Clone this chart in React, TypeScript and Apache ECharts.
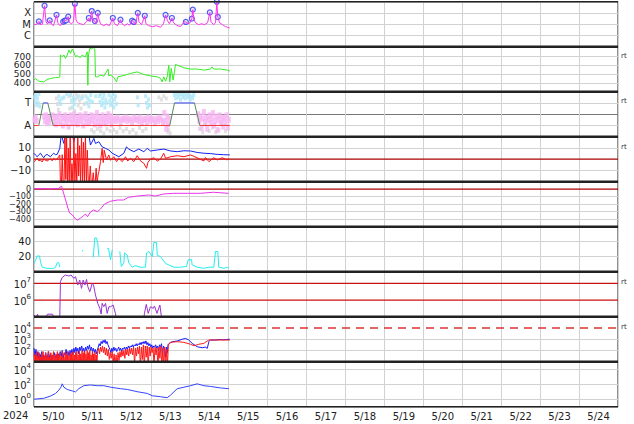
import React, { useEffect, useRef } from 'react';
import * as echarts from 'echarts';

// x values are hours since 5/10 00:00
const DAY_LABELS = ['5/10', '5/11', '5/12', '5/13', '5/14', '5/15', '5/16', '5/17', '5/18', '5/19', '5/20', '5/21', '5/22', '5/23', '5/24'];
const YEAR_LABEL = '2024';
const RT_LABEL = 'rt';
const FLARE_CLASS: Record<number, string> = { 1: 'C', 2: 'M', 3: 'X' };
const PLASMA_LABEL: Record<number, string> = { 0: 'A', 2: 'T' };
const ELECTRON_LEVELS = [6, 7];
const PROTON_LEVEL = [4];

// Panel 1: X-ray flare class (log level, C=1, M=2, X=3)
const xrayFlux: (number | null)[][] = [
  [0, 2.0], [1.5, 1.96], [3.0, 2.25], [4.0, 1.96], [5.2, 2.0], [6.5, 3.64], [7.4, 2.22], [8.3, 2.0], [9.7, 2.34], [10.8, 2.0],
  [12.0, 1.87], [13.9, 2.82], [14.8, 2.05], [16.3, 1.87], [18.0, 2.22], [19.0, 2.31], [19.9, 2.34], [21.1, 2.67], [21.9, 2.13], [23.1, 2.04],
  [24.4, 2.22], [25.2, 3.82], [25.9, 2.4], [26.8, 2.13], [28.7, 2.04], [30.5, 1.96], [32.4, 2.22], [33.8, 2.55], [34.5, 2.22], [35.6, 3.17],
  [36.4, 2.31], [37.5, 2.28], [38.2, 2.04], [39.3, 3.0], [40.1, 2.4], [41.0, 2.04], [42.8, 1.87], [44.7, 2.0], [46.5, 1.87], [48.6, 2.55],
  [49.6, 2.04], [51.5, 1.87], [53.3, 2.4], [54.3, 2.04], [55.8, 1.87], [57.6, 2.04], [58.9, 1.91], [60.5, 2.31], [61.5, 2.2], [62.6, 1.96],
  [64.0, 3.0], [64.7, 2.22], [66.3, 1.96], [68.3, 2.75], [69.0, 2.04], [70.6, 1.87], [73.1, 1.78], [75.5, 1.87], [78.0, 1.73], [79.8, 2.04],
  [81.1, 2.82], [82.3, 2.31], [83.5, 2.04], [85.0, 2.55], [86.0, 2.13], [87.9, 1.91], [90.3, 1.78], [92.5, 2.2], [93.6, 2.2], [94.6, 2.04],
  [96.2, 2.13], [97.3, 2.49], [97.9, 3.29], [98.6, 2.4], [99.6, 2.13], [101.4, 1.96], [103.3, 2.04], [105.1, 1.96], [107.0, 2.13], [108.4, 3.04],
  [109.1, 2.22], [110.7, 1.96], [111.9, 2.13], [112.7, 4.0], [113.3, 2.64], [114.4, 2.13], [116.2, 1.96], [118.1, 1.78], [119.3, 1.73], [120.7, 1.66],
];
const xrayFlares: number[][] = [
  [3.0, 2.25], [6.5, 3.64], [9.7, 2.34], [13.9, 2.82], [18.0, 2.22], [19.0, 2.31], [19.9, 2.34], [21.1, 2.67], [25.2, 3.82], [33.8, 2.55],
  [35.6, 3.17], [37.5, 2.28], [39.3, 3.0], [48.6, 2.55], [53.3, 2.4], [60.5, 2.31], [61.5, 2.2], [64.0, 3.0], [68.3, 2.75], [81.1, 2.82],
  [85.0, 2.55], [93.6, 2.2], [97.3, 2.49], [97.9, 3.29], [108.4, 3.04], [112.7, 4.0], [113.3, 2.64],
];

// Panel 2: solar wind speed (km/s)
const windSpeed: number[][] = [
  [0, 432], [0.9, 451], [3.0, 420], [6.0, 412], [8.1, 440], [10.2, 451], [13.3, 463], [15.3, 463], [15.9, 470], [16.3, 720],
  [17.4, 700], [18.4, 720], [19.4, 682], [20.5, 720], [21.5, 777], [22.5, 739], [23.6, 789], [24.5, 757], [25.6, 700], [26.6, 712],
  [27.6, 700], [28.6, 690], [29.7, 720], [30.7, 705], [31.7, 700], [32.8, 757], [33.2, 374], [33.6, 720], [34.4, 797], [35.5, 790],
  [36.5, 804], [37.5, 789], [37.9, 470], [39.0, 470], [41.0, 489], [43.0, 478], [45.7, 559], [46.1, 481], [47.2, 489], [49.2, 463],
  [50.9, 412], [51.7, 470], [54.4, 481], [57.0, 495], [59.5, 509], [63.6, 527], [67.7, 497], [71.8, 481], [76.0, 470], [78.0, 451],
  [79.0, 412], [80.0, 470], [81.1, 420], [82.1, 470], [83.1, 604], [83.7, 412], [84.6, 567], [85.8, 432], [87.2, 612], [88.3, 604],
  [92.4, 573], [96.5, 559], [100.6, 559], [104.7, 547], [108.8, 559], [109.9, 585], [110.7, 559], [115.0, 559], [119.1, 547], [120.7, 536],
];

// Panel 3: plasma state (A=0, T=2)
const stateLow: (number | null)[][] = [[0, 0], [3.0, 0], [3.0, null], [11.8, 0], [83.7, 0], [83.7, null], [102.2, 0], [120.7, 0]];
const stateRamp: (number | null)[][] = [[3.0, 0], [5.7, 2], [5.7, null], [8.5, 2], [11.8, 0], [11.8, null], [83.7, 0], [86.6, 2], [86.6, null], [98.9, 2], [102.2, 0]];
const stateHigh: (number | null)[][] = [[5.7, 2], [8.5, 2], [8.5, null], [86.6, 2], [98.9, 2]];
const plasmaCyan: number[][] = [
  [0.3, 2.5], [0.8, 2.1], [1.2, 2.7], [1.6, 1.8], [2.1, 2.4], [2.6, 2.0], [3.0, 2.8], [3.5, 1.7],
  [15.2, 2.6], [15.8, 2.2], [16.5, 1.9], [17.2, 2.4], [18.5, 2.5], [20.2, 2.8],
  [22.6, 2.7], [23.1, 2.2], [23.6, 1.6], [24.2, 2.5], [24.8, 1.9], [25.4, 2.3], [27.8, 2.6], [29.5, 2.4],
  [32.0, 2.6], [32.6, 2.0], [33.2, 2.4], [33.8, 1.7], [34.4, 2.2], [35.0, 2.7], [36.0, 2.1], [38.0, 2.6],
  [40.2, 2.6], [40.7, 2.1], [41.2, 2.8], [41.7, 1.8], [42.2, 2.4], [42.7, 2.0], [43.2, 2.7], [43.7, 1.6], [44.2, 2.3], [44.7, 2.0],
  [46.2, 2.7], [46.7, 2.2], [47.2, 1.8], [47.7, 2.5], [48.2, 2.0], [48.7, 2.8], [49.2, 1.6], [49.7, 2.3], [50.2, 2.6], [50.7, 1.9],
  [63.8, 2.5], [64.2, 1.8], [68.8, 2.6], [69.4, 2.0], [70.0, 1.6], [70.6, 2.3], [71.2, 1.8],
  [86.5, 2.7], [87.3, 2.4], [88.0, 2.8], [88.8, 2.5], [89.5, 2.7], [90.3, 2.3], [91.0, 2.8], [91.8, 2.5], [92.5, 2.7], [93.3, 2.4],
  [94.0, 2.8], [94.8, 2.5], [95.5, 2.7], [96.3, 2.3], [97.0, 2.6], [97.8, 2.4], [98.5, 2.7],
];
const plasmaPink: number[][] = [
  [0.3, 0.5], [1.0, 0.7], [1.7, 0.4], [6.2, 0.8], [6.8, 0.4], [7.4, 0.9], [8.0, 0.2], [8.6, 0.7], [9.2, 0.3], [9.8, 0.6],
  [11.5, 0.9], [12.2, 0.3], [12.9, 0.7], [13.6, 0.1], [14.3, 0.8], [15.0, 0.4], [15.7, 1.0], [16.4, 0.2], [17.1, 0.7], [17.8, 0.0],
  [18.5, 0.6], [19.2, 0.9], [19.9, 0.3], [20.6, 0.7], [21.3, -0.1], [22.0, 0.5], [22.7, 0.9], [23.4, 0.2], [24.1, 0.6], [24.8, 1.0],
  [25.5, 0.3], [26.2, 0.7], [26.9, 0.1], [27.6, 0.5], [28.3, 0.9], [29.0, 0.4], [29.7, 0.8], [30.4, 0.0], [31.1, 0.6], [31.8, 1.0],
  [32.5, 0.3], [33.2, 0.7], [33.9, 0.2], [34.6, 0.5], [35.3, 0.9], [36.0, 0.4], [36.7, 0.8], [37.4, 0.1], [38.1, 0.6], [38.8, 1.1],
  [39.5, 0.3], [40.2, 0.7], [40.9, 0.0], [41.6, 0.5], [42.3, 0.9], [43.0, 0.3], [43.7, 0.7], [44.4, 0.2], [45.1, 0.6], [45.8, 1.0],
  [46.5, 0.4], [47.2, 0.8], [47.9, 0.1], [48.6, 0.5], [49.5, 0.6], [50.5, 0.4], [51.5, 0.7], [52.5, 0.5], [53.5, 0.3], [54.5, 0.6],
  [55.5, 0.5], [56.5, 0.7], [57.5, 0.4], [58.5, 0.6], [59.5, 0.5], [60.5, 0.3], [61.5, 0.7], [62.5, 0.5], [63.5, 0.6], [64.5, 0.4],
  [65.5, 0.7], [66.5, 0.2], [67.5, 0.5], [68.5, 0.6], [69.5, 0.3], [70.5, 0.7], [71.5, 0.4], [72.5, 0.6], [73.5, 0.5], [74.5, 0.2],
  [75.5, 0.6], [76.5, 0.4], [77.5, 0.7], [78.5, 0.5], [79.5, 0.3], [80.3, 1.1], [80.9, 0.4], [81.5, -0.3], [82.1, 0.8], [82.7, 0.1],
  [83.3, 0.6], [101.2, 1.0], [101.9, 0.4], [102.6, 0.8], [103.3, -0.2], [104.0, 0.6], [104.7, 1.2], [105.4, 0.3], [106.1, 0.7], [106.8, -0.3],
  [107.5, 0.5], [108.2, 0.9], [108.9, 0.2], [109.6, 0.6], [110.3, 1.1], [111.0, 0.0], [111.7, 0.4], [112.4, 0.8], [113.1, -0.4], [113.8, 0.5],
  [114.5, 0.9], [115.2, 0.2], [115.9, 0.6], [116.6, -0.1], [117.3, 0.7], [118.0, 0.3], [118.7, 0.9], [119.4, -0.2], [120.1, 0.5],
];
const plasmaGray: number[][] = [
  [13.8, 2.4], [14.5, 1.9], [15.0, 1.4], [21.5, 2.6], [22.0, 1.5], [25.0, 1.3], [26.0, 2.8], [26.5, 2.5], [27.2, 1.8], [28.0, 2.2],
  [29.0, 1.5], [30.0, 2.6], [31.0, 1.9], [35.5, -0.4], [37.0, -0.6], [39.0, -0.3], [41.0, -0.5], [43.0, -0.7], [45.0, -0.3], [47.0, -0.5],
  [49.0, -0.4], [51.0, -0.6], [53.0, -0.2], [55.0, -0.5], [57.0, -0.3], [59.0, -0.6], [61.0, -0.4], [63.0, -0.7], [65.0, -0.2], [67.0, -0.5],
  [69.0, -0.3], [77.0, 2.5], [78.5, 2.3], [80.0, 2.6], [81.5, 2.4], [82.5, -0.6], [83.0, -0.4], [84.0, -0.7], [102.0, -0.3], [104.0, -0.6],
  [106.0, 0.1], [108.0, -0.5], [110.0, -0.2], [112.0, -0.6], [114.0, -0.4], [116.0, 0.2], [118.0, -0.5],
];

// Panel 4: IMF (nT)
const imfTotal: number[][] = [
  [0, 5.3], [1.0, 3.5], [2.0, 2.2], [3.0, 4.0], [4.0, 5.3], [5.0, 3.0], [6.0, 1.3], [7.0, 3.5], [8.1, 4.3], [9.2, 3.0],
  [10.2, 2.2], [11.2, 4.0], [12.2, 5.3], [13.2, 4.0], [14.3, 4.3], [15.9, 9.6], [16.8, 22], [18.4, 14], [19.4, 22], [23.7, 22],
  [24.5, 15.5], [25.6, 22], [33.8, 22], [34.8, 12.6], [36.9, 18.5], [37.9, 14], [40.0, 15.5], [42.0, 11], [44.1, 9.6], [46.1, 8.2],
  [48.2, 5.3], [50.2, 3.8], [52.3, 2.2], [55.4, 5.3], [57.0, 11], [58.4, 9], [61.5, 6.7], [64.6, 9], [67.7, 6.7], [69.8, 9.6],
  [71.8, 7.3], [76.0, 8.2], [80.0, 9], [84.2, 7.3], [88.3, 6.7], [92.4, 7.5], [96.5, 7.3], [100.6, 6.0], [104.7, 5.3], [108.8, 5.0],
  [112.9, 4.3], [116.8, 4.0], [120.7, 3.8],
];
const imfBz: number[][] = [
  [0, -2.2], [1.0, -1.0], [2.0, 0.8], [3.0, -1.5], [4.0, -0.7], [5.0, -2.5], [6.0, 0.2], [7.0, -1.0], [8.1, -1.6], [9.2, -0.5],
  [10.2, 0.2], [11.2, -1.5], [12.2, 0.8], [13.2, -0.5], [14.3, 0.2], [15.9, 3.8], [16.3, -22], [16.9, -22], [17.4, 4], [17.9, -22],
  [18.5, -22], [19.1, 22], [19.6, -18], [20.1, 22], [20.6, -22], [21.2, 10], [21.7, -22], [22.3, 22], [22.9, -22], [23.4, -4],
  [24.0, -22], [24.6, 22], [25.2, -22], [25.8, 5], [26.4, -22], [27.0, 22], [27.5, -15], [28.1, 12], [28.7, -22], [29.3, 22],
  [29.9, -22], [30.5, 15], [31.1, -22], [31.7, 22], [32.3, -22], [32.9, 8], [33.5, -22], [34.1, -20], [34.7, -6], [35.3, -22],
  [35.9, -22], [36.5, -12], [37.1, -22], [37.7, -22], [38.3, -8], [38.9, -22], [39.5, -14], [40.0, -11], [41.0, -2.2], [42.0, 9.6],
  [42.7, -3], [43.3, 8], [44.7, -0.7], [46.1, 3.8], [47.2, -1], [49.2, 2.2], [50.9, -2.2], [52.3, 0.8], [54.4, -2.2], [56.4, 2.2],
  [57.8, -1.6], [59.5, 0.8], [61.5, -2.2], [63.6, 3.1], [65.7, -1.6], [67.7, -3.6], [69.4, -8.1], [70.2, -3], [71.8, 0.2], [73.9, 1.3],
  [76.0, -1.6], [78.0, 0.2], [80.0, 5.3], [81.1, 0.8], [84.2, 2.2], [88.3, 3.1], [92.4, 2.2], [96.5, 3.8], [100.6, 1.3], [104.7, -1.6],
  [105.7, 1.5], [107.8, -2.2], [110.8, 1.3], [112.9, -0.7], [116.0, 1.3], [119.1, -0.7], [120.1, 0.8],
];

// Panel 5: Dst (nT)
const dstIndex: number[][] = [
  [0, 5], [4.0, 8], [10.2, 5], [15.1, 10], [17.0, 40], [18.2, -50], [20.7, -237], [21.9, -317], [23.7, -344], [25.6, -397],
  [26.8, -412], [28.7, -384], [30.5, -357], [31.7, -330], [33.0, -367], [34.8, -304], [36.7, -277], [39.1, -300], [41.0, -264], [43.5, -197],
  [47.2, -161], [51.5, -144], [55.2, -144], [58.3, -108], [63.8, -91], [70.6, -77], [74.9, -91], [79.8, -64], [86.0, -55], [94.6, -55],
  [102.6, -55], [110.5, -41], [119.9, -55],
];

// Panel 6: density
const density: (number | null)[][] = [
  [0, 11], [0.9, 15], [2.0, 21], [3.4, 21], [4.0, 13], [5.1, 6], [8.1, 4.5], [12.0, 4.5], [13.3, 6], [14.3, 12],
  [15.3, 12], [15.9, 6], [16.0, null], [29.7, 27], [30.1, 29], [30.2, null], [36.5, 19], [37.5, 45], [38.5, 45], [39.3, 38],
  [40.0, 20], [40.1, null], [45.1, 31], [45.9, 31], [47.2, 16], [48.2, 29], [48.3, null], [52.9, 27], [53.8, 7], [55.4, 12],
  [55.8, 25], [57.5, 22], [58.4, 12], [60.5, 6], [62.6, 8], [65.7, 6], [68.7, 6], [69.4, 25], [70.8, 27], [72.9, 20],
  [73.9, 39], [75.5, 39], [76.0, 22], [78.0, 20], [79.4, 16], [81.1, 11], [83.1, 9], [86.2, 6], [90.3, 6], [94.0, 7],
  [95.1, 16], [97.1, 16], [97.5, 9], [100.6, 6], [104.7, 4.5], [107.8, 6], [110.8, 6], [111.9, 27], [113.3, 27], [113.9, 6],
  [117.0, 4.5], [119.1, 6], [120.1, 4.5],
];

// Panel 7: electron flux (log10)
const electronFlux: (number | null)[][] = [
  [0, 5.1], [0.9, 4.9], [2.2, 5.15], [2.8, 4.9], [7.1, 4.9], [8.3, 5.15], [11.4, 5.15], [12.6, 4.9], [15.3, 4.9], [15.9, 5.0],
  [16.3, 7.1], [17.4, 7.36], [19.4, 7.5], [21.5, 7.44], [22.9, 7.5], [24.5, 7.3], [25.6, 7.4], [27.0, 6.9], [28.2, 7.2], [29.3, 6.7],
  [30.3, 7.2], [31.4, 6.9], [32.4, 7.24], [33.2, 6.8], [34.4, 6.5], [35.9, 7.0], [36.7, 6.9], [37.9, 6.3], [39.3, 5.8], [40.6, 5.5],
  [41.4, 5.16], [42.0, 5.8], [43.0, 5.6], [44.1, 5.8], [45.1, 5.2], [46.2, 5.6], [47.2, 5.6], [48.8, 5.7], [50.2, 5.2], [50.9, 4.8],
  [51.0, null], [67.7, 4.9], [68.1, 5.2], [69.2, 5.74], [70.4, 5.2], [71.8, 5.6], [73.5, 5.5], [74.3, 5.64], [75.8, 5.2], [77.6, 5.7],
  [78.4, 5.1], [78.9, 4.8],
];

// Panel 8: proton flux (log10)
const protonHigh: number[][] = [
  [0, 2.2], [0.6, 1.5], [1.2, 2.1], [1.8, 1.3], [2.4, 1.9], [3.0, 1.2], [3.6, 1.7], [4.2, 1.4], [4.8, 1.9], [5.4, 1.1],
  [6.0, 1.6], [6.6, 1.3], [7.2, 1.8], [7.8, 1.2], [8.4, 1.5], [9.0, 1.9], [9.6, 1.3], [10.2, 1.7], [10.8, 1.2], [11.4, 1.6],
  [12.0, 1.4], [12.6, 1.8], [13.2, 1.3], [13.8, 1.6], [14.4, 1.2], [15.0, 1.7], [15.6, 1.4], [16.2, 1.9], [16.8, 1.5], [17.4, 2.0],
  [18.0, 1.3], [18.6, 1.8], [19.2, 1.6], [19.8, 2.1], [20.4, 1.4], [21.0, 1.9], [21.6, 1.5], [22.2, 2.0], [22.8, 1.7], [23.4, 2.1],
  [24.0, 1.6], [24.6, 2.2], [25.2, 1.8], [25.8, 2.3], [26.4, 1.9], [27.0, 2.2], [27.6, 1.7], [28.2, 2.3], [28.8, 2.0], [29.4, 2.4],
  [30.0, 1.9], [30.6, 2.2], [31.2, 1.8], [31.8, 2.3], [32.4, 2.0], [33.0, 2.4], [33.6, 2.1], [34.2, 2.5], [34.8, 2.0], [35.4, 2.3],
  [36.0, 1.9], [36.6, 2.2], [37.2, 1.8], [37.8, 2.1], [38.4, 1.7], [39.0, 2.0], [39.6, 2.3], [40.2, 2.6], [40.8, 2.4], [41.4, 2.8],
  [42.0, 2.6], [42.6, 2.9], [43.2, 2.7], [43.8, 2.95], [44.4, 2.6], [45.0, 2.8], [45.6, 2.5], [46.2, 2.3], [46.8, 2.1], [47.4, 1.8],
  [48.0, 2.2], [48.6, 1.9], [49.2, 2.3], [49.8, 2.0], [50.4, 2.2], [51.0, 1.9], [51.6, 2.1], [52.2, 2.3], [52.8, 2.0], [53.4, 2.2],
  [54.0, 1.9], [54.6, 2.2], [55.2, 2.1], [55.8, 2.3], [56.4, 2.0], [57.0, 2.3], [57.6, 2.1], [58.2, 2.4], [58.8, 2.2], [59.4, 2.4],
  [60.0, 2.3], [60.6, 2.5], [61.2, 2.3], [61.8, 2.5], [62.4, 2.4], [63.0, 2.6], [63.6, 2.4], [64.2, 2.6], [64.8, 2.5], [65.4, 2.7],
  [66.0, 2.5], [66.6, 2.75], [67.2, 2.6], [67.8, 2.8], [68.4, 2.6], [69.0, 2.85], [69.6, 2.5], [70.2, 2.7], [70.8, 2.4], [71.4, 2.6],
  [72.0, 2.3], [72.6, 2.5], [73.2, 2.2], [73.8, 2.4], [74.4, 2.3], [75.0, 2.5], [75.6, 2.2], [76.2, 2.4], [76.8, 2.0], [77.4, 2.5],
  [78.0, 2.3], [78.6, 2.6], [79.2, 1.6], [79.8, 2.4], [80.4, 2.2], [81.0, 1.4], [81.6, 2.3], [82.2, 1.8], [82.6, 2.5], [83.3, 2.63],
  [85.3, 2.78], [88.3, 2.84], [91.4, 3.0], [93.4, 3.07], [95.4, 2.93], [97.5, 2.63], [100.6, 2.33], [103.7, 2.24], [105.6, 2.3], [106.8, 2.19],
  [107.8, 2.78], [108.8, 2.93], [112.0, 2.93], [115.0, 2.97], [117.0, 2.95], [120.7, 3.0],
];
const protonLow: number[][] = [
  [0, 1.8], [0.4, 0.6], [0.8, 1.6], [1.2, 0.5], [1.6, 1.9], [2.0, 0.7], [2.4, 1.5], [2.8, 0.5], [3.2, 1.8], [3.6, 0.6],
  [4.0, 1.4], [4.4, 0.5], [4.8, 1.7], [5.2, 0.8], [5.6, 1.9], [6.0, 0.5], [6.4, 1.5], [6.8, 0.6], [7.2, 1.8], [7.6, 0.5],
  [8.0, 1.6], [8.4, 0.7], [8.8, 1.9], [9.2, 0.5], [9.6, 1.4], [10.0, 0.6], [10.4, 1.8], [10.8, 0.5], [11.2, 1.6], [11.6, 0.8],
  [12.0, 1.9], [12.4, 0.5], [12.8, 1.5], [13.2, 0.6], [13.6, 1.7], [14.0, 0.5], [14.4, 1.9], [14.8, 0.6], [15.2, 1.6], [15.6, 0.5],
  [16.0, 1.8], [16.4, 0.7], [16.8, 1.5], [17.2, 0.5], [17.6, 1.9], [18.0, 0.6], [18.4, 1.4], [18.8, 0.5], [19.2, 1.8], [19.6, 0.6],
  [20.0, 1.6], [20.4, 0.5], [20.8, 1.9], [21.2, 0.7], [21.6, 1.5], [22.0, 0.5], [22.4, 1.8], [22.8, 0.6], [23.2, 1.7], [23.6, 0.5],
  [24.0, 1.9], [24.4, 0.6], [24.8, 1.6], [25.2, 0.5], [25.6, 1.8], [26.0, 0.7], [26.4, 1.9], [26.8, 0.5], [27.2, 1.6], [27.6, 0.6],
  [28.0, 1.9], [28.4, 0.5], [28.8, 1.7], [29.2, 0.6], [29.6, 2.0], [30.0, 0.5], [30.4, 1.8], [30.8, 0.7], [31.2, 1.9], [31.6, 0.5],
  [32.0, 1.7], [32.4, 0.6], [32.8, 2.0], [33.2, 0.5], [33.6, 1.8], [34.0, 0.6], [34.4, 2.0], [34.8, 0.5], [35.2, 1.6], [35.6, 0.7],
  [36.0, 1.9], [36.4, 0.5], [36.8, 1.7], [37.2, 0.6], [37.6, 1.8], [38.0, 0.5], [38.4, 1.6], [38.8, 0.7], [39.2, 1.9], [39.8, 2.2],
  [40.4, 1.7], [41.0, 2.3], [41.6, 1.9], [42.2, 2.4], [42.8, 1.8], [43.4, 2.3], [44.0, 1.6], [44.6, 2.2], [45.2, 1.5], [45.8, 2.1],
  [46.4, 1.2], [47.0, 1.8], [47.6, 1.3], [48.2, 1.9], [48.8, 0.9], [49.4, 1.7], [50.0, 0.6], [50.6, 1.6], [51.2, 0.5], [51.8, 1.8],
  [52.4, 1.1], [53.0, 1.9], [53.6, 1.4], [54.2, 2.0], [54.8, 1.5], [55.4, 2.0], [56.0, 1.3], [56.6, 2.1], [57.2, 1.6], [57.8, 2.1],
  [58.4, 1.5], [59.0, 2.2], [59.6, 1.7], [60.2, 2.2], [60.8, 1.6], [61.4, 2.3], [62.0, 0.8], [62.6, 2.2], [63.2, 1.5], [63.8, 2.3],
  [64.4, 1.7], [65.0, 2.4], [65.6, 0.6], [66.2, 2.3], [66.8, 1.2], [67.4, 2.5], [68.0, 0.5], [68.6, 2.4], [69.2, 1.4], [69.8, 2.4],
  [70.4, 0.6], [71.0, 2.3], [71.6, 1.5], [72.2, 2.3], [72.8, 1.8], [73.4, 2.2], [74.0, 0.7], [74.6, 2.3], [75.2, 1.6], [75.8, 2.2],
  [76.4, 0.5], [77.0, 2.3], [77.6, 1.3], [78.2, 2.4], [78.8, 0.5], [79.4, 2.2], [80.0, 0.6], [80.6, 2.3], [81.2, 0.5], [81.8, 2.1],
  [82.3, 0.6], [82.8, 2.48], [84.2, 2.72], [88.3, 2.78], [92.4, 2.72], [96.5, 2.55], [98.6, 2.42], [101.6, 2.55], [104.7, 2.63], [107.8, 2.93],
  [112.9, 2.93], [120.7, 2.93],
];

// Panel 9: log10 index
const bottomIndex: number[][] = [
  [0, 0], [6.0, 0.12], [10.2, 0.42], [13.3, 0.77], [15.3, 1.2], [16.6, 1.6], [17.4, 2.05], [18.4, 1.6], [20.5, 1.3], [23.6, 1.1],
  [25.6, 0.97], [27.6, 1.4], [30.7, 1.8], [34.8, 1.9], [39.0, 1.8], [43.0, 1.8], [47.2, 1.6], [53.3, 1.4], [57.5, 1.3], [63.6, 1.0],
  [69.8, 0.77], [72.9, 0.46], [78.0, 0.33], [82.1, 0.2], [84.2, 0.55], [88.3, 1.4], [92.4, 1.6], [96.5, 1.8], [100.6, 2.05], [104.7, 1.8],
  [108.8, 1.7], [115.0, 1.5], [120.1, 1.4],
];

const X_MAX = 360;
const LEFT = 34;
const WIDTH = 584;
const TOP0 = 1.7;
const PH = 45;
const NP = 9;
const GRID = '#d2d2d2';
const FONT = 'DejaVu Sans';
const T = 'rgba(0,0,0,0)';

const supLabel = (n: number) => `{b|10}{s|${n}}`;

export default function App() {
  const ref = useRef<HTMLDivElement>(null);
  useEffect(() => {
    if (!ref.current) return;
    const chart = echarts.init(ref.current, undefined, { renderer: 'svg' });
    const grids = Array.from({ length: NP }, (_, i) => ({
      left: LEFT, width: WIDTH, top: TOP0 + PH * i, height: PH,
      show: true, borderColor: '#222', borderWidth: 1, backgroundColor: 'transparent',
    }));
    const xAxes: any[] = Array.from({ length: NP }, (_, i) => ({
      type: 'value', gridIndex: i, min: 0, max: X_MAX, interval: 24,
      axisLine: { show: false }, axisTick: { show: false }, axisLabel: { show: false },
      splitLine: { show: true, lineStyle: { color: GRID, width: 1 } },
    }));
    xAxes.push({
      type: 'category', gridIndex: NP - 1, data: DAY_LABELS, boundaryGap: true, position: 'bottom',
      axisLine: { show: false }, axisTick: { show: false }, splitLine: { show: false },
      axisLabel: { fontSize: 10, color: '#222', margin: 5, fontFamily: FONT },
    });
    const lab = { fontSize: 10, color: '#222', margin: 3, fontFamily: FONT };
    const rich = {
      b: { fontSize: 10, fontFamily: FONT, color: '#222', verticalAlign: 'bottom', lineHeight: 13 },
      s: { fontSize: 7, fontFamily: FONT, color: '#222', verticalAlign: 'top', lineHeight: 13, padding: [0, 0, 5, 0] },
    };
    const yBase = (i: number, min: number, max: number, interval: number, fmt: (v: number) => string, colors: string[] | null, useRich = false, fontSize = 10, lineHeight = 10) => ({
      type: 'value', gridIndex: i, min, max, interval,
      axisLine: { show: false }, axisTick: { show: false },
      axisLabel: { ...lab, fontSize, lineHeight, formatter: fmt, ...(useRich ? { rich } : {}) },
      splitLine: colors ? { show: true, lineStyle: { color: colors, width: 1 } } : { show: false },
    });
    const minus = (v: number) => (v < 0 ? '\u2212' + Math.abs(v) : String(v));
    const yAxes = [
      yBase(0, 0, 4, 1, (v) => FLARE_CLASS[v] || '', [T, GRID, GRID, GRID, T]),
      yBase(1, 300, 815, 100, (v) => (v >= 400 && v <= 700 ? String(v) : ''), [T, GRID, GRID, GRID, GRID, T], false, 9, 8),
      yBase(2, -1, 3, 1, (v) => PLASMA_LABEL[v] || '', [T, GRID, '#777', GRID, T]),
      yBase(3, -20, 20, 10, (v) => (Math.abs(v) <= 10 ? minus(v) : ''), [T, GRID, T, GRID, T]),
      yBase(4, -500, 100, 100, (v) => (v <= 0 && v >= -400 ? minus(v) : ''), [T, GRID, GRID, GRID, GRID, T, T], false, 8, 7),
      yBase(5, 0, 60, 20, (v) => (v === 20 || v === 40 ? String(v) : ''), [T, GRID, GRID, T]),
      yBase(6, 5, 7.7, 1, (v) => (v === 6 || v === 7 ? supLabel(v) : ''), null, true),
      yBase(7, 1, 5, 1, (v) => (v >= 2 && v <= 4 ? supLabel(v) : ''), [T, GRID, GRID, T, T], true),
      yBase(8, -1, 5, 1, (v) => (v === 0 || v === 2 || v === 4 ? supLabel(v) : ''), [T, GRID, T, GRID, T, GRID, T], true),
    ];
    const line = (i: number, data: any[], color: string, extra: any = {}) => ({
      type: 'line', xAxisIndex: i, yAxisIndex: i, data, showSymbol: false, symbol: 'none',
      connectNulls: false, lineStyle: { color, width: 1 }, itemStyle: { color }, silent: true, ...extra,
    });
    const level = (i: number, v: number, color: string, width: number, type: any = 'solid') =>
      line(i, [[0, v], [X_MAX, v]], color, { lineStyle: { color, width, type }, z: 3 });
    const scat = (i: number, data: number[][], color: string, size: any) => ({
      type: 'scatter', xAxisIndex: i, yAxisIndex: i, data, symbol: 'rect', symbolSize: size,
      itemStyle: { color }, silent: true,
    });
    const series: any[] = [
      line(0, xrayFlux, '#ff33ee'),
      {
        type: 'scatter', xAxisIndex: 0, yAxisIndex: 0, data: xrayFlares, symbol: 'circle', symbolSize: 5,
        itemStyle: { color: '#e4e6ff', borderColor: '#2a33ee', borderWidth: 1.2 }, silent: true,
      },
      line(1, windSpeed, '#33ee22'),
      scat(2, plasmaGray, '#d9d9d9', [3, 4]),
      scat(2, plasmaPink, '#f6b4f2', [4, 6]),
      scat(2, plasmaCyan, '#ade6f8', [3, 4]),
      line(2, stateLow, '#ee3333'),
      line(2, stateRamp, '#5a8a5a'),
      line(2, stateHigh, '#3344ee'),
      level(3, 0, '#aa0000', 1.2),
      line(3, imfTotal, '#1122ee'),
      line(3, imfBz, '#ff1111'),
      level(4, 0, '#aa0000', 1.2),
      line(4, dstIndex, '#ee33ee'),
      line(5, density, '#22eeee'),
      ...ELECTRON_LEVELS.map((v) => level(6, v, '#cc1111', 1.2)),
      line(6, electronFlux, '#9933cc'),
      line(7, protonHigh, '#1a1aff'),
      line(7, protonLow, '#ff1a1a'),
      ...PROTON_LEVEL.map((v) => level(7, v, '#dd3333', 1.5, [8, 6])),
      line(8, bottomIndex, '#3344ff'),
    ];
    const graphics: any[] = [];
    for (let k = 1; k < NP; k++) {
      const y = TOP0 + PH * k;
      graphics.push({ type: 'line', shape: { x1: LEFT, y1: y, x2: LEFT + WIDTH, y2: y }, style: { stroke: '#222', lineWidth: 2.6 }, z: 100 });
    }
    graphics.push({ type: 'line', shape: { x1: LEFT, y1: TOP0, x2: LEFT + WIDTH, y2: TOP0 }, style: { stroke: '#222', lineWidth: 1.5 }, z: 100 });
    graphics.push({ type: 'line', shape: { x1: LEFT, y1: TOP0 + PH * NP, x2: LEFT + WIDTH, y2: TOP0 + PH * NP }, style: { stroke: '#222', lineWidth: 1.5 }, z: 100 });
    graphics.push({ type: 'text', left: 3, top: 410, style: { text: YEAR_LABEL, fontSize: 10, fill: '#222', fontFamily: FONT }, z: 100 });
    [56, 101, 147, 282, 327].forEach((y) => {
      graphics.push({ type: 'text', left: 621, top: y - 4, style: { text: RT_LABEL, fontSize: 7, fill: '#333', fontFamily: FONT }, z: 100 });
    });
    chart.setOption({
      animation: false,
      backgroundColor: '#fff',
      grid: grids,
      xAxis: xAxes,
      yAxis: yAxes,
      series,
      graphic: graphics,
    });
    return () => chart.dispose();
  }, []);
  return <div ref={ref} style={{ width: 634, height: 424, position: 'fixed', left: 0, top: 0 }} />;
}
